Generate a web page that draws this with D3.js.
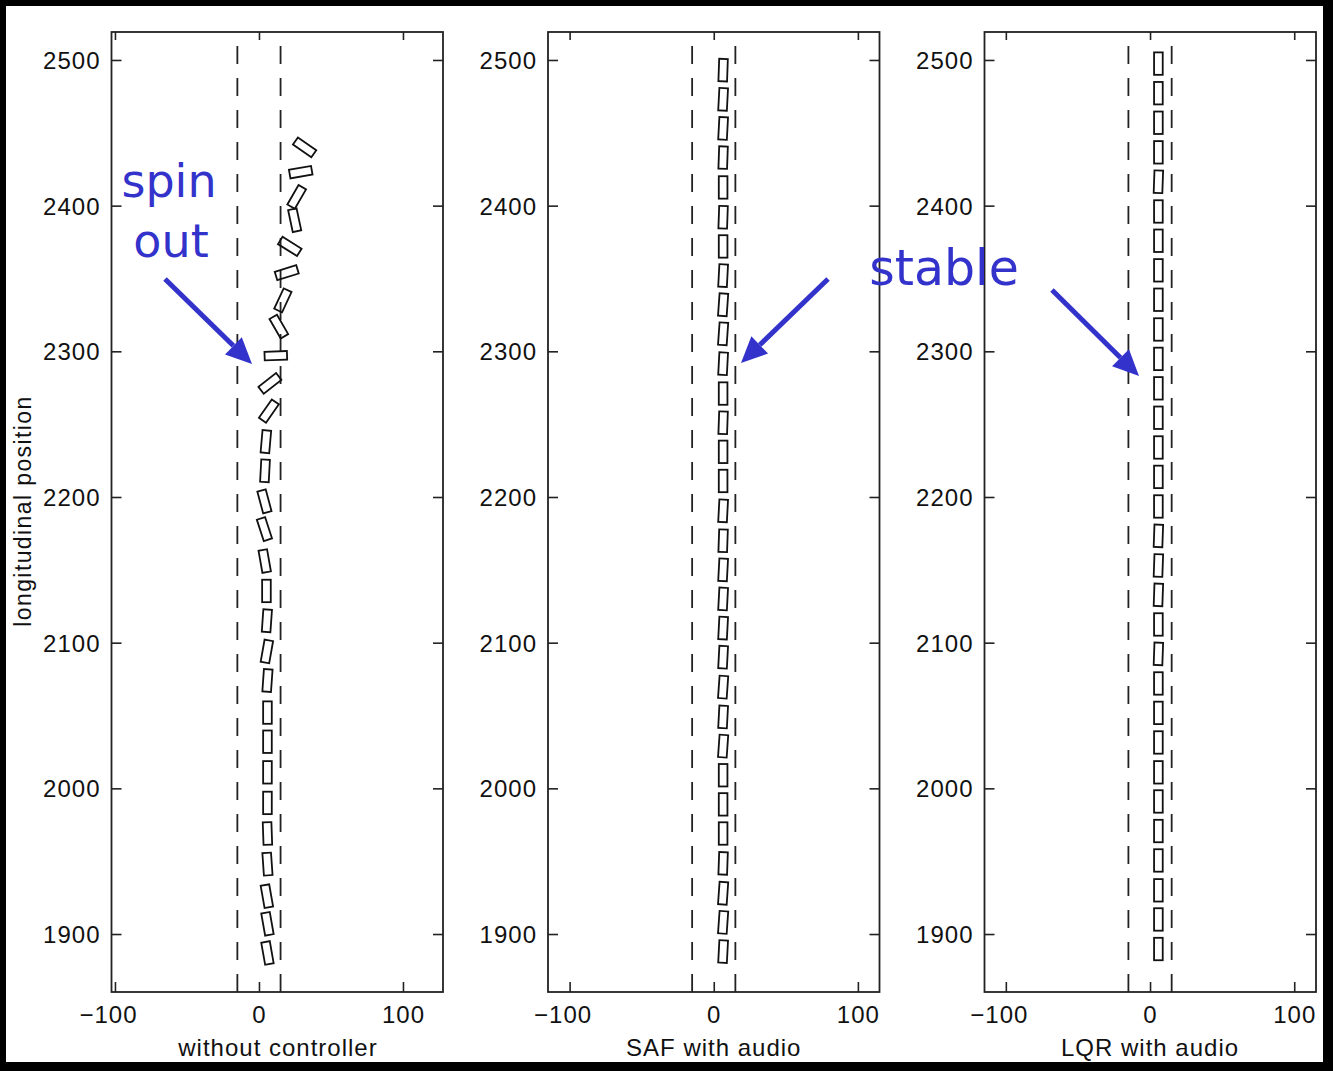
<!DOCTYPE html>
<html>
<head>
<meta charset="utf-8">
<script src="https://cdn.jsdelivr.net/npm/d3@7"></script>
<style>
  html, body { margin: 0; padding: 0; background: #000; }
  svg { display: block; }
</style>
</head>
<body>
<svg id="chart" width="1333" height="1071"></svg>
<script>
// ---------------- data ----------------
const yTicks = [1900, 2000, 2100, 2200, 2300, 2400, 2500];
const xTicks = [-100, 0, 100];
const laneEdges = [-15, 15];
const panelTitles = ["without controller", "SAF with audio", "LQR with audio"];
const yAxisTitle = "longitudinal position";

// panel 1: without controller (bottom to top)
const p1Y = [1887, 1907, 1926, 1948, 1969, 1990, 2011, 2032, 2052, 2074, 2094, 2115, 2135.5, 2156, 2178, 2197, 2218, 2238, 2259, 2278, 2297, 2317, 2335, 2354, 2372, 2390, 2406, 2423, 2440];
const p1X = [5.9, 5.9, 5.5, 5.9, 5.9, 5.9, 5.9, 5.9, 5.9, 5.9, 5.5, 5.5, 5.2, 4.0, 3.8, 3.8, 4.2, 4.8, 6.9, 7.6, 11.7, 13.8, 16.6, 19.3, 21.4, 24.8, 26.2, 29.0, 31.7];
const p1Heading = [-10, -10, -10, -4, -2, 0, 0, 0, 0, 4, 10, 4, 0, -10, -18, -15, 3, 5, 35, 52, 88, -30, 25, 73, -58, -12, 30, 80, -55];

// panel 2: SAF with audio
const p2Y = [1888, 1908, 1928, 1948.5, 1969, 1989, 2009, 2029, 2049, 2069.5, 2090, 2110, 2130, 2150, 2170, 2190.5, 2211, 2231, 2251, 2271, 2291.5, 2312, 2332, 2352, 2372, 2392, 2412.5, 2433, 2453, 2473, 2493];
const p2X = [6.5, 6.5, 6.5, 6.5, 6.5, 6.5, 6.5, 6.5, 6.5, 6.5, 6.5, 6.5, 6.5, 6.5, 6.5, 6.5, 6.5, 6.5, 6.5, 6.5, 6.5, 6.5, 6.5, 6.5, 6.5, 6.5, 6.5, 6.5, 6.5, 6.5, 6.5];
const p2Heading = [3, 4, 4, 2, 0, 0, 0, 4, 3, 4, 3, 3, 3, 3, 2, 3, 0, 0, 2, 0, 3, 4, 4, 3, 0, 2, 0, 2, 3, 3, 2];

// panel 3: LQR with audio
const p3Y = [1889.7, 1910, 1930, 1950.5, 1970.7, 1991, 2011, 2031.5, 2051.8, 2072, 2092.3, 2112.5, 2132.8, 2153, 2173.3, 2193.5, 2213.8, 2234, 2254.4, 2274.6, 2294.8, 2315, 2335.4, 2355.6, 2375.9, 2396, 2416.4, 2436.6, 2456.9, 2477.2, 2497.5];
const p3X = [5.8, 5.8, 5.8, 5.8, 5.8, 5.8, 5.8, 5.8, 5.8, 5.8, 5.8, 5.8, 5.8, 5.8, 5.8, 5.8, 5.8, 5.8, 5.8, 5.8, 5.8, 5.8, 5.8, 5.8, 5.8, 5.8, 5.8, 5.8, 5.8, 5.8, 5.8];
const p3Heading = [0, 0, 0, 0, 0, 0, 0, 0, 0, 0, 2, 0, 2, 2, 2, 0, 0, 0, 0, 0, 0, 0, 0, 0, 0, 0, 2, 0, 0, 0, 0];

const xDomains = [[-102.4, 127.8], [-115, 115], [-114.8, 115.1]];
const yDomain = [1860.2, 2519.2];
const carLength = 15.4;
const carWidth = 6.0;

const annotationTexts = [["spin", "out"], ["stable"]];

// ---------------- layout ----------------
const panelLeft = [111.5, 548, 984.5];
const panelW = 331.5;
const plotTop = 32, plotBottom = 992;
const blue = "#3333cc";
const font = "'Liberation Sans', Arial, Helvetica, sans-serif";

const svg = d3.select("#chart");
svg.append("rect").attr("x", 6).attr("y", 6).attr("width", 1317).attr("height", 1056).attr("fill", "#fff");

const panels = [
  { xs: p1X, ys: p1Y, hs: p1Heading },
  { xs: p2X, ys: p2Y, hs: p2Heading },
  { xs: p3X, ys: p3Y, hs: p3Heading }
];

const yScale = d3.scaleLinear().domain(yDomain).range([plotBottom, plotTop]);

panels.forEach((p, i) => {
  const x = d3.scaleLinear().domain(xDomains[i]).range([panelLeft[i], panelLeft[i] + panelW]);
  const g = svg.append("g");

  // lane lines
  laneEdges.forEach(v => {
    g.append("line")
      .attr("x1", x(v)).attr("x2", x(v))
      .attr("y1", plotBottom).attr("y2", plotTop)
      .attr("stroke", "#222").attr("stroke-width", 1.8)
      .attr("stroke-dasharray", "18,14");
  });

  // cars
  const cars = p.ys.map((yv, k) => ({ x: p.xs[k], y: yv, h: p.hs[k] }));
  const wPx = Math.abs(x(carWidth) - x(0));
  const lPx = Math.abs(yScale(carLength) - yScale(0));
  g.selectAll("rect.car").data(cars).join("rect")
    .attr("class", "car")
    .attr("x", -wPx / 2).attr("y", -lPx / 2)
    .attr("width", wPx).attr("height", lPx)
    .attr("transform", d => `translate(${x(d.x)},${yScale(d.y)}) rotate(${d.h})`)
    .attr("fill", "none").attr("stroke", "#111").attr("stroke-width", 1.8);

  // axes
  const axB = d3.axisBottom(x).tickValues(xTicks).tickSize(-10).tickPadding(14)
    .tickFormat(d => d < 0 ? "\u2212" + Math.abs(d) : String(d));
  const axT = d3.axisTop(x).tickValues(xTicks).tickSize(-8).tickFormat("");
  const axL = d3.axisLeft(yScale).tickValues(yTicks).tickSize(-10).tickPadding(11).tickFormat(d3.format("d"));
  const axR = d3.axisRight(yScale).tickValues(yTicks).tickSize(-10).tickFormat("");

  const gb = g.append("g").attr("transform", `translate(0,${plotBottom})`).call(axB);
  const gt = g.append("g").attr("transform", `translate(0,${plotTop})`).call(axT);
  const gl = g.append("g").attr("transform", `translate(${panelLeft[i]},0)`).call(axL);
  const gr = g.append("g").attr("transform", `translate(${panelLeft[i] + panelW},0)`).call(axR);
  [gb, gt, gl, gr].forEach(a => {
    a.select(".domain").remove();
    a.selectAll("line").attr("stroke", "#222").attr("stroke-width", 1.6);
    a.selectAll("text").attr("fill", "#111").style("font-family", font).style("font-size", "24px").style("letter-spacing", "1px");
  });
  gl.selectAll("text").attr("dy", "0.36em");
  gb.selectAll("text").attr("dy", "0.71em").attr("dx", d => d < 0 ? -7 : 0);

  g.append("rect")
    .attr("x", panelLeft[i]).attr("y", plotTop)
    .attr("width", panelW).attr("height", plotBottom - plotTop)
    .attr("fill", "none").attr("stroke", "#222").attr("stroke-width", 1.8);

  // x title
  g.append("text")
    .attr("x", x(0) + (i === 0 ? 19 : 0)).attr("y", 1056)
    .attr("text-anchor", "middle")
    .style("font-family", font).style("font-size", "24px").style("letter-spacing", "1px")
    .attr("fill", "#111")
    .text(panelTitles[i]);
});

// y title
svg.append("text")
  .attr("transform", "translate(31,511) rotate(-90)")
  .attr("text-anchor", "middle")
  .style("font-family", font).style("font-size", "23px").style("letter-spacing", "1.4px")
  .attr("fill", "#111")
  .text(yAxisTitle);

// ---------------- annotations ----------------
const afont = "'DejaVu Sans', Verdana, sans-serif";
svg.append("text").attr("x", 169).attr("y", 197).attr("text-anchor", "middle")
  .style("font-family", afont).style("font-size", "46px").attr("fill", blue).text(annotationTexts[0][0]);
svg.append("text").attr("x", 171).attr("y", 257).attr("text-anchor", "middle")
  .style("font-family", afont).style("font-size", "46px").attr("fill", blue).text(annotationTexts[0][1]);
svg.append("text").attr("x", 944).attr("y", 285).attr("text-anchor", "middle")
  .style("font-family", afont).style("font-size", "49px").attr("fill", blue).text(annotationTexts[1][0]);

function arrow(x1, y1, x2, y2) {
  const ang = Math.atan2(y2 - y1, x2 - x1);
  const headL = 26, headW = 12;
  const bx = x2 - headL * Math.cos(ang), by = y2 - headL * Math.sin(ang);
  svg.append("line").attr("x1", x1).attr("y1", y1).attr("x2", bx).attr("y2", by)
    .attr("stroke", blue).attr("stroke-width", 5);
  const px = -Math.sin(ang), py = Math.cos(ang);
  svg.append("polygon")
    .attr("points", [[x2, y2], [bx + px * headW, by + py * headW], [bx - px * headW, by - py * headW]].map(q => q.join(",")).join(" "))
    .attr("fill", blue);
}
arrow(165, 279, 252, 364);
arrow(828, 279, 741, 363);
arrow(1052, 290, 1139, 376);
</script>
</body>
</html>
